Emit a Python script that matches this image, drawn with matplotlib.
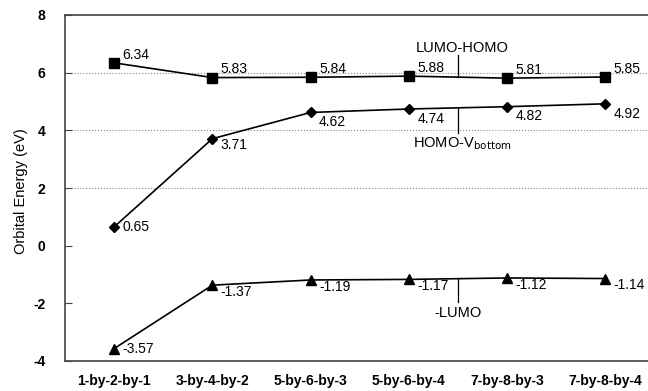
import matplotlib
matplotlib.use("Agg")
from matplotlib import pyplot as plt

plt.rcParams['font.family'] = ['Liberation Sans', 'DejaVu Sans']
plt.rcParams['axes.unicode_minus'] = False

# cluster sizes along the x axis
clusters = ['1-by-2-by-1', '3-by-4-by-2', '5-by-6-by-3',
            '5-by-6-by-4', '7-by-8-by-3', '7-by-8-by-4']

# orbital energies (eV)
gap = [6.34, 5.83, 5.84, 5.88, 5.81, 5.85]        # LUMO-HOMO
homo_vb = [0.65, 3.71, 4.62, 4.74, 4.82, 4.92]    # HOMO-V_bottom
neg_lumo = [-3.57, -1.37, -1.19, -1.17, -1.12, -1.14]  # -LUMO

x = list(range(len(clusters)))

fig = plt.figure(figsize=(6.48, 3.91), dpi=100)
ax = fig.add_axes([65 / 648, 30 / 391, 1 - 65 / 648 + 0.01, 346 / 391])

# dotted guide lines
for yv in (2, 4, 6):
    ax.axhline(yv, color='#888888', linestyle=':', linewidth=0.8, zorder=0)

ax.plot(x, gap, color='black', marker='s', markersize=7, linewidth=1.2)
ax.plot(x, homo_vb, color='black', marker='D', markersize=5.5, linewidth=1.2)
ax.plot(x, neg_lumo, color='black', marker='^', markersize=7, linewidth=1.2)

# value labels
for xi, v in zip(x, gap):
    ax.annotate(f'{v:.2f}', (xi, v), xytext=(6, 6), textcoords='offset points',
                fontsize=10, ha='left', va='center')
for xi, v in zip(x, homo_vb):
    dy = 0 if xi == 0 else (-4.5 if xi == 1 else -7)
    ax.annotate(f'{v:.2f}', (xi, v), xytext=(6, dy), textcoords='offset points',
                fontsize=10, ha='left', va='center')
for xi, v in zip(x, neg_lumo):
    dy = 0 if xi == 0 else -5
    ax.annotate(f'{v:.2f}', (xi, v), xytext=(6, dy), textcoords='offset points',
                fontsize=10, ha='left', va='center')

# series name callouts
xs = 3.5
ax.plot([xs, xs], [5.845, 6.61], color='black', linewidth=0.9)
ax.text(xs + 0.04, 6.86, 'LUMO-HOMO', fontsize=10.5, ha='center', va='center')
ax.plot([xs, xs], [4.78, 3.9], color='black', linewidth=0.9)
ax.text(xs + 0.04, 3.55, 'HOMO-V$_{\\mathrm{bottom}}$', fontsize=10.5,
        ha='center', va='center')
ax.plot([xs, xs], [-1.15, -1.97], color='black', linewidth=0.9)
ax.text(xs, -2.35, '-LUMO', fontsize=10.5, ha='center', va='center')

ax.set_xlim(-0.5, 5.5)
ax.set_ylim(-4, 8)
ax.set_yticks([-4, -2, 0, 2, 4, 6, 8])
ax.set_xticks(x)
ax.set_xticklabels(clusters, fontweight='bold', fontsize=10)
ax.tick_params(axis='x', length=0, pad=9)
ax.tick_params(axis='y', direction='in', length=5, width=0.8,
               labelsize=10, pad=14, color='#444444')
for lbl in ax.get_yticklabels():
    lbl.set_fontweight('bold')
ax.set_ylabel('Orbital Energy (eV)', fontsize=10.5)
ax.yaxis.set_label_coords(-0.062, 0.49)

for side in ('top', 'left', 'bottom'):
    ax.spines[side].set_color('#444444')
    ax.spines[side].set_linewidth(1.2)
ax.spines['right'].set_visible(False)

fig.savefig('out.png', dpi=100)
